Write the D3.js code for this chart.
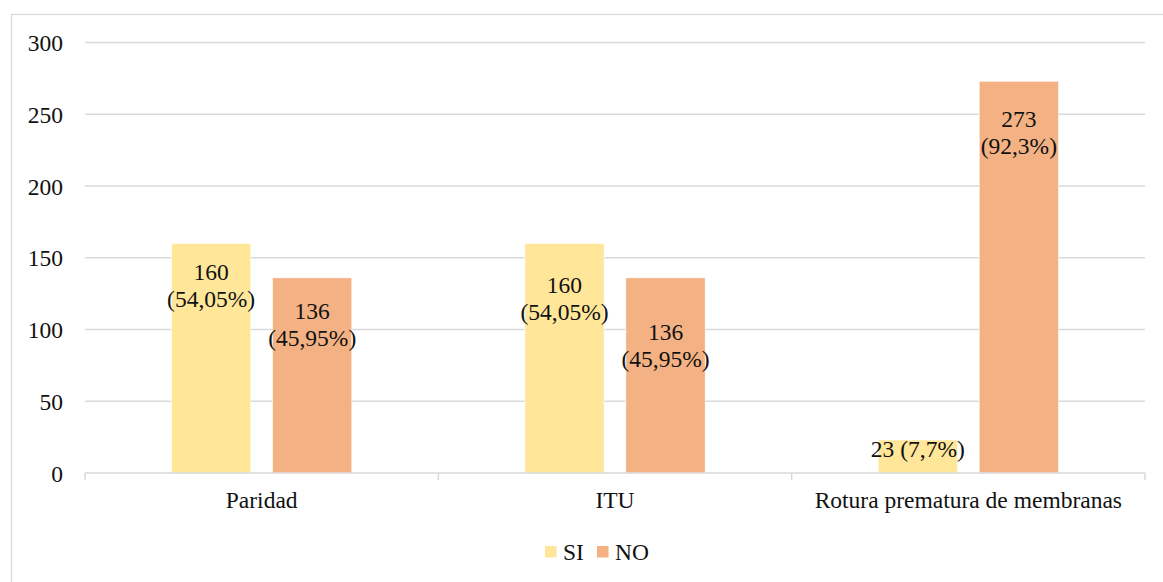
<!DOCTYPE html>
<html>
<head>
<meta charset="utf-8">
<script src="https://d3js.org/d3.v7.min.js"></script>
<style>
  html, body { margin: 0; padding: 0; background: #fff; }
  svg { display: block; }
</style>
</head>
<body>
<script>
// ---- Data ----
const categories = ["Paridad", "ITU", "Rotura prematura de membranas"];
const seriesNames = ["SI", "NO"];
const siValues = [160, 160, 23];
const noValues = [136, 136, 273];
const siLabels = [["160", "(54,05%)"], ["160", "(54,05%)"], ["23 (7,7%)"]];
const noLabels = [["136", "(45,95%)"], ["136", "(45,95%)"], ["273", "(92,3%)"]];
const yTicks = [0, 50, 100, 150, 200, 250, 300];

// ---- Layout / style ----
const W = 1163, H = 582;
const FONT = "'Liberation Serif', 'Times New Roman', serif";
const colors = { SI: "#FFE699", NO: "#F4B183" };
const fontSize = 23.5;
const lineH = 27;
// first-line baseline offset below the bar top, per label (manual placement as in the source)
const labelDy = { SI: [36.6, 50, 17], NO: [41, 62, 46] };

const svg = d3.select("body").append("svg").attr("width", W).attr("height", H)
  .attr("font-family", FONT);

// chart border
svg.append("rect").attr("x", 11.5).attr("y", 14.5).attr("width", 1160).attr("height", 580)
  .attr("fill", "none").attr("stroke", "#D9D9D9").attr("stroke-width", 1.3);

const plotL = 85, plotR = 1145, plotT = 42.5, plotB = 473;
const y = d3.scaleLinear().domain([0, 300]).range([plotB, plotT]);
const x0 = d3.scaleBand().domain(categories).range([plotL, plotR]).padding(0);
const bw = x0.bandwidth();
const x1 = d3.scaleBand().domain(seriesNames).range([86.5, bw - 86.5]).paddingInner(0.215).paddingOuter(0);

// gridlines
svg.append("g").selectAll("line").data(yTicks.filter(d => d !== 0)).join("line")
  .attr("x1", plotL).attr("x2", plotR)
  .attr("y1", d => y(d)).attr("y2", d => y(d))
  .attr("stroke", "#D9D9D9").attr("stroke-width", 1.3);

// y axis labels
const yAxis = d3.axisLeft(y).tickValues(yTicks).tickSize(0).tickPadding(0);
const yg = svg.append("g").attr("transform", `translate(63,0)`).call(yAxis);
yg.attr("font-family", FONT).attr("font-size", fontSize);
yg.select(".domain").remove();
yg.selectAll("text").attr("font-family", FONT).attr("font-size", fontSize)
  .attr("fill", "#111").attr("dy", "0.35em");

// bars
const rows = categories.map((c, i) => ({
  cat: c,
  vals: [
    { s: "SI", v: siValues[i], lab: siLabels[i], dy: labelDy.SI[i] },
    { s: "NO", v: noValues[i], lab: noLabels[i], dy: labelDy.NO[i] }
  ]
}));

const groups = svg.append("g").selectAll("g").data(rows).join("g")
  .attr("transform", d => `translate(${x0(d.cat)},0)`);

groups.selectAll("rect").data(d => d.vals).join("rect")
  .attr("x", d => x1(d.s)).attr("width", x1.bandwidth())
  .attr("y", d => y(d.v)).attr("height", d => y(0) - y(d.v))
  .attr("fill", d => colors[d.s])
  .attr("stroke", "#fff").attr("stroke-width", 0.6);

// x axis
const xAxis = d3.axisBottom(x0).tickSize(0).tickPadding(0);
const xg = svg.append("g").attr("transform", `translate(0,${plotB})`).call(xAxis);
xg.attr("font-family", FONT).attr("font-size", fontSize);
xg.select(".domain").attr("stroke", "#D9D9D9").attr("stroke-width", 1.5)
  .attr("d", `M${plotL},0H${plotR}`);
xg.selectAll("text").attr("font-family", FONT).attr("font-size", fontSize)
  .attr("fill", "#111").attr("y", 35).attr("dy", 0);
// category boundary tick marks
const bounds = categories.map(c => x0(c)).concat([x0(categories[categories.length - 1]) + bw]);
xg.append("g").selectAll("line").data(bounds).join("line")
  .attr("x1", d => d).attr("x2", d => d).attr("y1", 0).attr("y2", 7)
  .attr("stroke", "#D9D9D9").attr("stroke-width", 1.5);

// data labels
groups.selectAll("text.lbl").data(d => d.vals).join("text").attr("class", "lbl")
  .attr("text-anchor", "middle")
  .attr("font-family", FONT).attr("font-size", fontSize).attr("fill", "#111")
  .each(function (d) {
    const t = d3.select(this);
    const cx = x1(d.s) + x1.bandwidth() / 2;
    d.lab.forEach((line, k) => {
      t.append("tspan").attr("x", cx).attr("y", y(d.v) + d.dy + k * lineH).text(line);
    });
  });

// legend
const legend = svg.append("g").attr("transform", "translate(545,546)");
const legItems = [{ s: "SI", x: 0 }, { s: "NO", x: 52 }];
legItems.forEach(it => {
  legend.append("rect").attr("x", it.x).attr("y", 0).attr("width", 11.5).attr("height", 11.5)
    .attr("fill", colors[it.s]);
  legend.append("text").attr("x", it.x + 18).attr("y", 13.5)
    .attr("font-family", FONT).attr("font-size", fontSize).attr("fill", "#111").text(it.s);
});
</script>
</body>
</html>
